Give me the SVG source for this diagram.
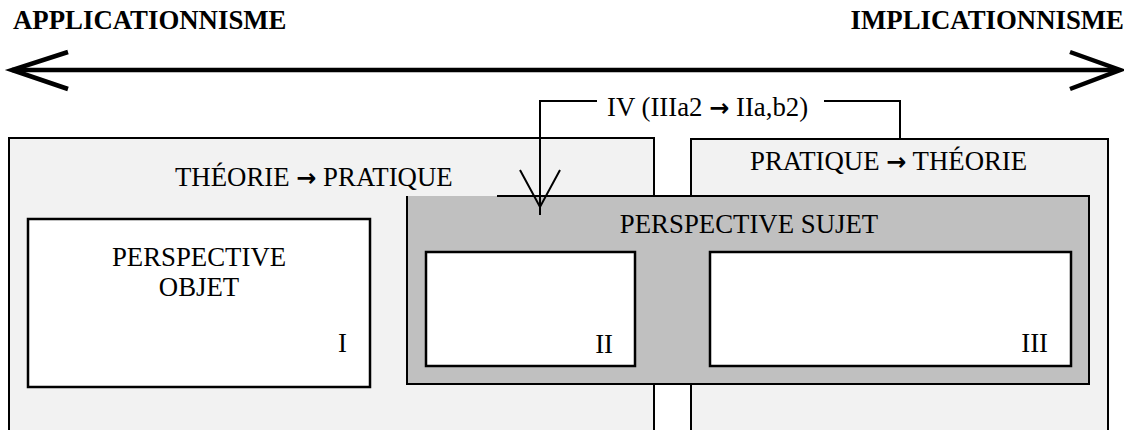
<svg xmlns="http://www.w3.org/2000/svg" width="1124" height="430" viewBox="0 0 1124 430">
<style>
.t{font-family:"Liberation Serif","Times New Roman",serif;font-size:26.8px;fill:#000}
.b{font-weight:bold}
.ar{font-family:"DejaVu Sans",sans-serif;font-size:24px;font-weight:bold}
.frame{fill:#f2f2f2;stroke:#000;stroke-width:2}
.inner{fill:#fff;stroke:#000;stroke-width:2.5}
.ln{fill:none;stroke:#000;stroke-width:2}
</style>
<rect width="1124" height="430" fill="#fff"/>
<g id="axis">
<text class="t b" x="13" y="29">APPLICATIONNISME</text>
<text class="t b" x="1124" y="29" text-anchor="end">IMPLICATIONNISME</text>
<line x1="12" y1="70" x2="1118" y2="70" stroke="#000" stroke-width="4.5"/>
<polyline points="68,52 12,70 68,89" fill="none" stroke="#000" stroke-width="4.5"/>
<polyline points="1070,52 1120,70 1070,89" fill="none" stroke="#000" stroke-width="4.5"/>
</g>
<g id="theorie-pratique">
<rect class="frame" x="9" y="138" width="645" height="310"/>
<text class="t" x="175" y="186">THÉORIE <tspan class="ar">→</tspan> PRATIQUE</text>
</g>
<g id="pratique-theorie">
<rect class="frame" x="691" y="139" width="417" height="310"/>
<text class="t" x="750" y="170">PRATIQUE <tspan class="ar">→</tspan> THÉORIE</text>
</g>
<g id="perspective-sujet">
<rect x="407" y="196" width="682" height="188" fill="#c0c0c0"/>
<path class="ln" d="M497,196 H1089 V384 H407 V196" stroke-width="2.5"/>
<text class="t" x="749" y="233" text-anchor="middle">PERSPECTIVE SUJET</text>
</g>
<g id="perspective-objet">
<rect class="inner" x="28" y="219" width="342" height="168"/>
<text class="t" x="199" y="266" text-anchor="middle">PERSPECTIVE</text>
<text class="t" x="199" y="296" text-anchor="middle">OBJET</text>
<text class="t" x="347" y="352" text-anchor="end">I</text>
</g>
<g id="box-II">
<rect class="inner" x="426" y="252" width="209" height="114"/>
<text class="t" x="613" y="353" text-anchor="end">II</text>
</g>
<g id="box-III">
<rect class="inner" x="710" y="252" width="361" height="114"/>
<text class="t" x="1048" y="352" text-anchor="end">III</text>
</g>
<g id="connectors">
<polyline class="ln" points="597,101 540,101 540,215"/>
<polyline class="ln" points="520,170 540,207 560,170"/>
<polyline class="ln" points="824,101 900,101 900,139"/>
<text class="t" x="607" y="116">IV (IIIa2 <tspan class="ar">→</tspan> IIa,b2)</text>
</g>
</svg>
